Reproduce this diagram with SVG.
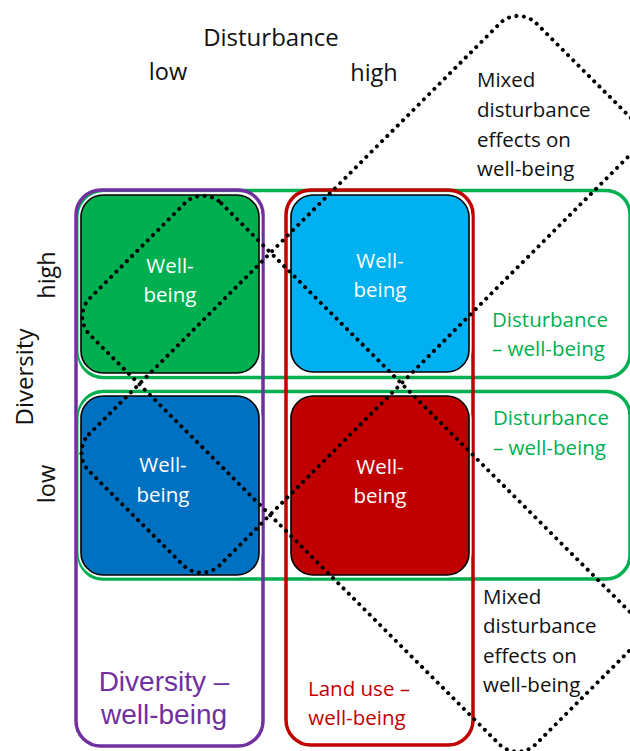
<svg xmlns="http://www.w3.org/2000/svg" width="630" height="751" viewBox="0 0 630 751">
<style>
text{font-family:"Open Sans","Noto Sans","Liberation Sans",sans-serif;}
.lbl{font-size:24px;fill:#111;}
.sm{font-size:20.5px;fill:#111;}
.wb{font-size:20.5px;fill:#fff;text-anchor:middle;}
.grn{font-size:20.5px;fill:#00B050;}
.pur{font-family:"Liberation Sans",Arial,sans-serif;font-size:28px;fill:#7030A0;text-anchor:middle;}
.frame{fill:none;stroke-width:3.5;}
.box{stroke:#000;stroke-width:1.6;}
.halo{fill:none;stroke:#fff;stroke-width:5;}
.band{fill:none;stroke:#000;stroke-width:4;stroke-linecap:round;stroke-dasharray:0 7.4;}
</style>
<rect width="630" height="751" fill="#fff"/>
<g id="axis-labels">
<text class="lbl" x="271" y="46" text-anchor="middle">Disturbance</text>
<text class="lbl" x="168" y="80" text-anchor="middle" style="font-size:23.5px">low</text>
<text class="lbl" x="374" y="81" text-anchor="middle" style="font-size:23.5px">high</text>
<text class="lbl" text-anchor="middle" transform="translate(33,377) rotate(-90)">Diversity</text>
<text class="lbl" text-anchor="middle" style="font-size:23.5px" transform="translate(55,275) rotate(-90)">high</text>
<text class="lbl" text-anchor="middle" style="font-size:23.5px" transform="translate(55,484) rotate(-90)">low</text>
</g>
<g id="frame-disturbance-high">
<rect class="frame" x="79" y="190.5" width="551" height="187" rx="24" stroke="#00B050"/>
<text class="grn" x="492" y="327">Disturbance</text>
<text class="grn" x="492" y="356">– well-being</text>
</g>
<g id="frame-disturbance-low">
<rect class="frame" x="79" y="391.5" width="551" height="187.5" rx="24" stroke="#00B050"/>
<text class="grn" x="493" y="425">Disturbance</text>
<text class="grn" x="493" y="455">– well-being</text>
</g>
<g id="frame-diversity">
<rect class="frame" x="76" y="190" width="187" height="556" rx="25" stroke="#7030A0"/>
<text class="pur" x="164" y="691">Diversity –</text>
<text class="pur" x="164" y="724">well-being</text>
</g>
<g id="frame-landuse">
<rect class="frame" x="286" y="190" width="187" height="555" rx="25" stroke="#C00000"/>
<text x="359" y="696" text-anchor="middle" style="font-size:20.5px;fill:#C00000">Land use –</text>
<text x="357" y="725" text-anchor="middle" style="font-size:20.5px;fill:#C00000">well-being</text>
</g>
<g id="box-high-low">
<rect class="halo" x="81" y="195" width="178" height="178" rx="22"/>
<rect class="box" x="81" y="195" width="178" height="178" rx="22" fill="#00B050"/>
<text class="wb" x="170" y="273">Well-</text>
<text class="wb" x="170" y="302">being</text>
</g>
<g id="box-high-high">
<rect class="halo" x="291" y="195" width="178" height="177" rx="22"/>
<rect class="box" x="291" y="195" width="178" height="177" rx="22" fill="#00B0F0"/>
<text class="wb" x="380" y="268">Well-</text>
<text class="wb" x="380" y="297">being</text>
</g>
<g id="box-low-low">
<rect class="halo" x="81" y="396" width="178" height="179" rx="22"/>
<rect class="box" x="81" y="396" width="178" height="179" rx="22" fill="#0070C0"/>
<text class="wb" x="163" y="472">Well-</text>
<text class="wb" x="163" y="502">being</text>
</g>
<g id="box-low-high">
<rect class="halo" x="291" y="396" width="178" height="179" rx="22"/>
<rect class="box" x="291" y="396" width="178" height="179" rx="22" fill="#C00000"/>
<text class="wb" x="380" y="474">Well-</text>
<text class="wb" x="380" y="503">being</text>
</g>
<g id="mixed-top">
<text class="sm" x="477" y="87">Mixed</text>
<text class="sm" x="477" y="117">disturbance</text>
<text class="sm" x="477" y="147">effects on</text>
<text class="sm" x="477" y="176">well-being</text>
</g>
<g id="mixed-bottom">
<text class="sm" x="483" y="604">Mixed</text>
<text class="sm" x="483" y="633">disturbance</text>
<text class="sm" x="483" y="663">effects on</text>
<text class="sm" x="483" y="692">well-being</text>
</g>
<g id="bands">
<rect class="band" x="-270.1" y="370" width="632.8" height="185" rx="26" transform="rotate(-45)"/>
<rect class="band" x="274.4" y="-12.7" width="630.7" height="185.9" rx="26" transform="rotate(45)"/>
</g>
</svg>
